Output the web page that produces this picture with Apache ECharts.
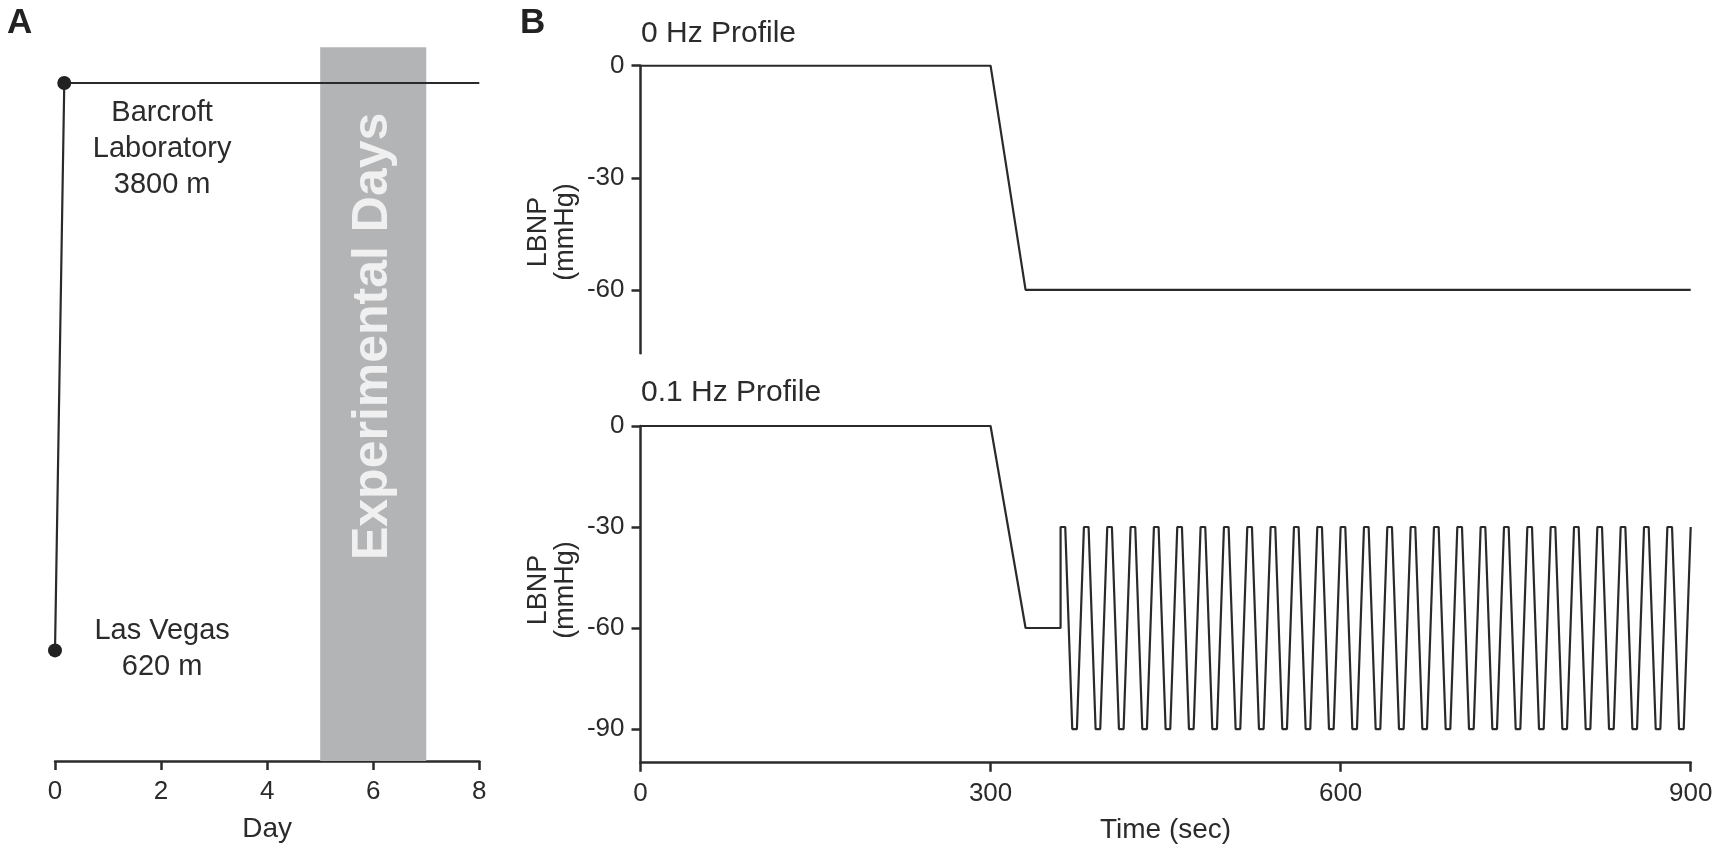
<!DOCTYPE html>
<html>
<head>
<meta charset="utf-8">
<script src="https://cdn.jsdelivr.net/npm/echarts@6/dist/echarts.min.js"></script>
<style>
html,body{margin:0;padding:0;background:#fff;}
#c{width:1716px;height:848px;}
</style>
</head>
<body>
<div id="c"></div>
<script>
// ---- Panel A data ----
const altitudeDays = [0, 0.175, 8];
const altitudeMeters = [620, 3800, 3800];
const experimentalDays = [5, 7];
const dayTicks = [0, 2, 4, 6, 8];

// ---- Panel B data: 0 Hz profile ----
const time0Hz = [0, 300, 330, 900];
const lbnp0Hz = [0, 0, -60, -60];

// ---- Panel B data: 0.1 Hz profile ----
const time01Hz = [
  0, 300, 330, 360,
  360, 364, 370, 374, 380, 384, 390, 394, 400, 404, 410, 414, 420, 424, 430, 434,
  440, 444, 450, 454, 460, 464, 470, 474, 480, 484, 490, 494, 500, 504, 510, 514,
  520, 524, 530, 534, 540, 544, 550, 554, 560, 564, 570, 574, 580, 584, 590, 594,
  600, 604, 610, 614, 620, 624, 630, 634, 640, 644, 650, 654, 660, 664, 670, 674,
  680, 684, 690, 694, 700, 704, 710, 714, 720, 724, 730, 734, 740, 744, 750, 754,
  760, 764, 770, 774, 780, 784, 790, 794, 800, 804, 810, 814, 820, 824, 830, 834,
  840, 844, 850, 854, 860, 864, 870, 874, 880, 884, 890, 894,
  900
];
const lbnp01Hz = [
  0, 0, -60, -60,
  -30, -30, -90, -90, -30, -30, -90, -90, -30, -30, -90, -90, -30, -30, -90, -90,
  -30, -30, -90, -90, -30, -30, -90, -90, -30, -30, -90, -90, -30, -30, -90, -90,
  -30, -30, -90, -90, -30, -30, -90, -90, -30, -30, -90, -90, -30, -30, -90, -90,
  -30, -30, -90, -90, -30, -30, -90, -90, -30, -30, -90, -90, -30, -30, -90, -90,
  -30, -30, -90, -90, -30, -30, -90, -90, -30, -30, -90, -90, -30, -30, -90, -90,
  -30, -30, -90, -90, -30, -30, -90, -90, -30, -30, -90, -90, -30, -30, -90, -90,
  -30, -30, -90, -90, -30, -30, -90, -90, -30, -30, -90, -90,
  -30
];
const timeTicks = [0, 300, 600, 900];
const lbnpTicksTop = [0, -30, -60];
const lbnpTicksBottom = [0, -30, -60, -90];

const FONT = '"Liberation Sans", Arial, Helvetica, sans-serif';
const INK = '#2b2b2b';
const LINE = '#2a2a2a';

const chart = echarts.init(document.getElementById('c'), null, {renderer: 'canvas'});

const axisCommon = {
  axisLine: {show: true, onZero: false, lineStyle: {color: INK, width: 2.5}},
  axisTick: {show: true, length: 9, lineStyle: {color: INK, width: 2.5}},
  splitLine: {show: false},
  axisLabel: {color: INK, fontFamily: FONT, fontSize: 26}
};

const option = {
  animation: false,
  backgroundColor: '#ffffff',
  grid: [
    {left: 55, top: 47.3, width: 424.3, height: 716},
    {left: 640.5, top: 65.7, width: 1050.2, height: 287.6},
    {left: 640.5, top: 426, width: 1050.2, height: 336.7}
  ],
  xAxis: [
    Object.assign({}, axisCommon, {
      gridIndex: 0, type: 'value', min: 0, max: 8, interval: 2,
      name: 'Day', nameLocation: 'middle', nameGap: 54,
      nameTextStyle: {color: INK, fontFamily: FONT, fontSize: 28},
      axisLabel: Object.assign({}, axisCommon.axisLabel, {margin: 18,
        customValues: dayTicks}),
      axisTick: Object.assign({}, axisCommon.axisTick, {customValues: dayTicks})
    }),
    {gridIndex: 1, type: 'value', min: 0, max: 900, show: false},
    Object.assign({}, axisCommon, {
      gridIndex: 2, type: 'value', min: 0, max: 900, interval: 300,
      name: 'Time (sec)', nameLocation: 'middle', nameGap: 54,
      nameTextStyle: {color: INK, fontFamily: FONT, fontSize: 28},
      axisLabel: Object.assign({}, axisCommon.axisLabel, {margin: 18,
        customValues: timeTicks}),
      axisTick: Object.assign({}, axisCommon.axisTick, {customValues: timeTicks})
    })
  ],
  yAxis: [
    {gridIndex: 0, type: 'value', min: 0, max: 4000, show: false},
    Object.assign({}, axisCommon, {
      gridIndex: 1, type: 'value', min: -77, max: 0,
      axisLabel: Object.assign({}, axisCommon.axisLabel, {margin: 16,
        customValues: lbnpTicksTop}),
      axisTick: Object.assign({}, axisCommon.axisTick, {customValues: lbnpTicksTop})
    }),
    Object.assign({}, axisCommon, {
      gridIndex: 2, type: 'value', min: -100, max: 0,
      axisLabel: Object.assign({}, axisCommon.axisLabel, {margin: 16,
        customValues: lbnpTicksBottom}),
      axisTick: Object.assign({}, axisCommon.axisTick, {customValues: lbnpTicksBottom})
    })
  ],
  series: [
    {
      type: 'line', xAxisIndex: 0, yAxisIndex: 0,
      data: altitudeDays.map((d, i) => [d, altitudeMeters[i]]),
      symbol: 'circle',
      symbolSize: (v, p) => (p.dataIndex < 2 ? 14 : 0),
      itemStyle: {color: '#222222'},
      lineStyle: {color: LINE, width: 2.2},
      z: 5,
      markArea: {
        silent: true,
        itemStyle: {color: '#b3b4b6'},
        data: [[{xAxis: experimentalDays[0], yAxis: 0}, {xAxis: experimentalDays[1], yAxis: 4000}]]
      }
    },
    {
      type: 'scatter', xAxisIndex: 0, yAxisIndex: 0, symbolSize: 0, silent: true,
      data: [[2.02, 3430], [2.02, 625]],
      itemStyle: {opacity: 1},
      label: {
        show: true, position: 'inside', color: INK, fontFamily: FONT, fontSize: 29,
        lineHeight: 36, align: 'center', verticalAlign: 'middle',
        formatter: p => (p.dataIndex === 0 ? 'Barcroft\nLaboratory\n3800 m' : 'Las Vegas\n620 m')
      },
      z: 6
    },
    {
      type: 'scatter', xAxisIndex: 0, yAxisIndex: 0, symbolSize: 0, silent: true,
      data: [[6, 2380]],
      label: {
        show: true, position: 'inside', rotate: 90, formatter: 'Experimental Days',
        color: '#ffffff', fontFamily: FONT, fontWeight: 'bold', fontSize: 50,
        align: 'center', verticalAlign: 'middle'
      },
      z: 4
    },
    {
      type: 'line', xAxisIndex: 1, yAxisIndex: 1, showSymbol: false,
      data: time0Hz.map((t, i) => [t, lbnp0Hz[i]]),
      lineStyle: {color: LINE, width: 2.2}
    },
    {
      type: 'line', xAxisIndex: 2, yAxisIndex: 2, showSymbol: false,
      data: time01Hz.map((t, i) => [t, lbnp01Hz[i]]),
      lineStyle: {color: LINE, width: 2.2}
    }
  ],
  graphic: [
    {type: 'text', left: 7, top: 6, style: {text: 'A', fill: '#222', font: 'bold 35px ' + FONT}},
    {type: 'text', left: 520, top: 6, style: {text: 'B', fill: '#222', font: 'bold 35px ' + FONT}},
    {type: 'text', x: 641, y: 34, style: {text: '0 Hz Profile', fill: INK, font: '30px ' + FONT, textVerticalAlign: 'middle'}},
    {type: 'text', x: 641, y: 393, style: {text: '0.1 Hz Profile', fill: INK, font: '30px ' + FONT, textVerticalAlign: 'middle'}},
    {type: 'text', x: 552, y: 232, rotation: Math.PI / 2,
      style: {text: 'LBNP\n(mmHg)', fill: INK, font: '27px ' + FONT, lineHeight: 27, textAlign: 'center', textVerticalAlign: 'middle'}},
    {type: 'text', x: 552, y: 590, rotation: Math.PI / 2,
      style: {text: 'LBNP\n(mmHg)', fill: INK, font: '27px ' + FONT, lineHeight: 27, textAlign: 'center', textVerticalAlign: 'middle'}}
  ]
};
chart.setOption(option);
</script>
</body>
</html>
